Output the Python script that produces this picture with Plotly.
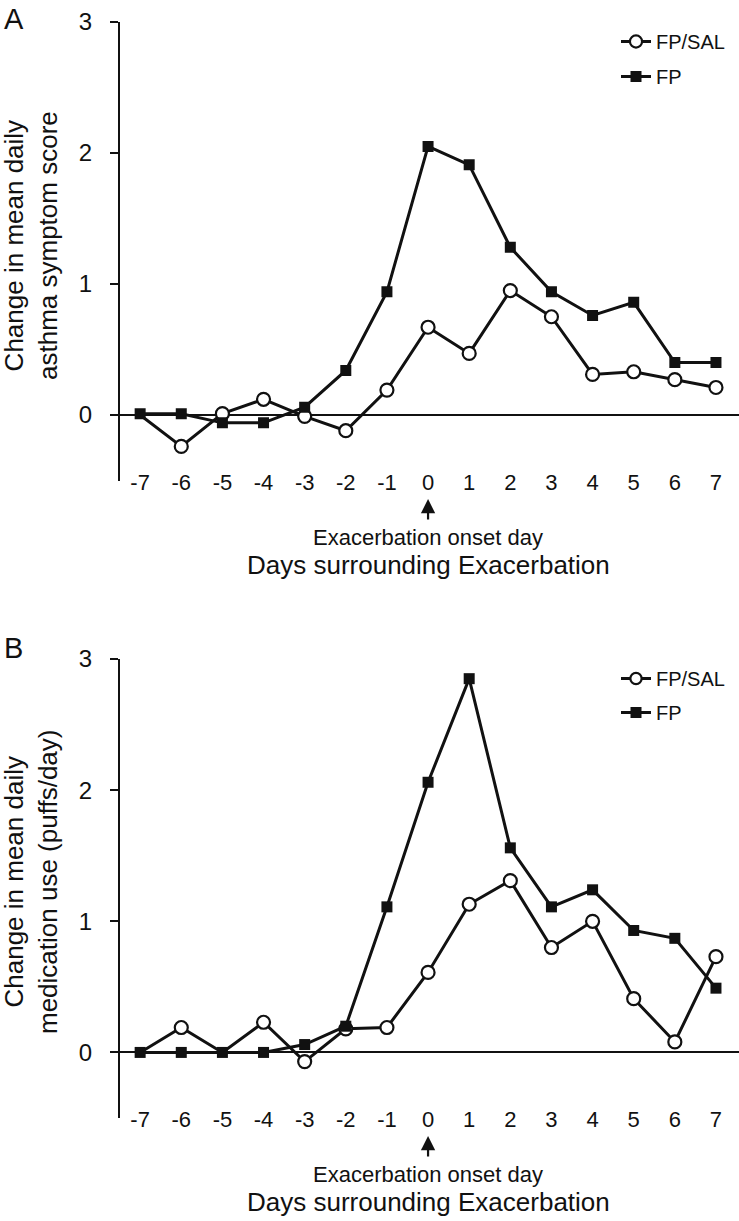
import plotly.graph_objects as go

# ---------------- data ----------------
days = [-7, -6, -5, -4, -3, -2, -1, 0, 1, 2, 3, 4, 5, 6, 7]
day_labels = ["-7", "-6", "-5", "-4", "-3", "-2", "-1", "0", "1", "2", "3", "4", "5", "6", "7"]

# Panel A: change in mean daily asthma symptom score
a_fpsal = [0.00, -0.24, 0.01, 0.12, -0.01, -0.12, 0.19, 0.67, 0.47, 0.95, 0.75, 0.31, 0.33, 0.27, 0.21]
a_fp = [0.01, 0.01, -0.06, -0.06, 0.06, 0.34, 0.94, 2.05, 1.91, 1.28, 0.94, 0.76, 0.86, 0.40, 0.40]

# Panel B: change in mean daily medication use (puffs/day)
b_fpsal = [0.00, 0.19, 0.00, 0.23, -0.07, 0.18, 0.19, 0.61, 1.13, 1.31, 0.80, 1.00, 0.41, 0.08, 0.73]
b_fp = [0.00, 0.00, 0.00, 0.00, 0.06, 0.20, 1.11, 2.06, 2.85, 1.56, 1.11, 1.24, 0.93, 0.87, 0.49]

y_ticks = [0, 1, 2, 3]
series_names = ["FP/SAL", "FP"]

# ---------------- layout geometry ----------------
W, H = 739, 1221
ML, MR, MT, MB = 120, 0, 22, 103
PH = H - MT - MB          # plot-area height in px
PW = W - ML - MR
PX_PER_UNIT = 131         # vertical px per y unit


def py(pix):
    """pixel row -> paper y"""
    return (H - MB - pix) / PH


def px(pix):
    """pixel column -> paper x"""
    return (pix - ML) / PW


FONT = "Liberation Sans, Arial, sans-serif"
BLACK = "#111111"

fig = go.Figure()

line_style = dict(color=BLACK, width=3)
square_style = dict(symbol="square", size=11, color=BLACK, opacity=1,
                    line=dict(color=BLACK, width=0))

for (xa, ya, leg, ys_sal, ys_fp) in [("x", "y", "legend", a_fpsal, a_fp),
                                     ("x2", "y2", "legend2", b_fpsal, b_fp)]:
    # circles exactly hidden under a coincident square are not visible in the original
    circ_sizes = [0 if abs(s - f) < 0.015 else 13 for s, f in zip(ys_sal, ys_fp)]
    fig.add_trace(go.Scatter(x=days, y=ys_sal, mode="lines+markers", name=series_names[0],
                             line=line_style,
                             marker=dict(symbol="circle", size=circ_sizes, color="white",
                                         opacity=1, line=dict(color=BLACK, width=2.2)),
                             xaxis=xa, yaxis=ya, legend=leg, legendgroup=leg + "a"))
    fig.add_trace(go.Scatter(x=days, y=ys_fp, mode="lines+markers", name=series_names[1],
                             line=line_style, marker=square_style, xaxis=xa, yaxis=ya,
                             legend=leg, legendgroup=leg + "b"))

xrange = [-7.49, 7.56]
yrange = [-0.5, 3]

common_x = dict(range=xrange, tickvals=days, ticktext=day_labels, showline=False,
                showgrid=False, zeroline=False, ticks="", anchor="free",
                tickfont=dict(family=FONT, size=22, color=BLACK))
common_y = dict(range=yrange, tickvals=y_ticks, showline=True, linewidth=2, linecolor=BLACK,
                ticks="outside", ticklen=8, tickwidth=2, tickcolor=BLACK, showgrid=False,
                zeroline=True, zerolinewidth=2, zerolinecolor=BLACK,
                ticklabelstandoff=13,
                tickfont=dict(family=FONT, size=24, color=BLACK))

fig.update_layout(
    width=W, height=H,
    margin=dict(l=ML, r=MR, t=MT, b=MB),
    paper_bgcolor="white", plot_bgcolor="white",
    font=dict(family=FONT, color=BLACK),
    xaxis=dict(**common_x, domain=[0, 1], position=py(467)),
    yaxis=dict(**common_y, domain=[py(480.5), 1], anchor="x"),
    xaxis2=dict(**common_x, domain=[0, 1], position=py(1104)),
    yaxis2=dict(**common_y, domain=[0, py(659)], anchor="x2"),
    legend=dict(x=px(616), y=py(22), xanchor="left", yanchor="top",
                bgcolor="rgba(0,0,0,0)", font=dict(family=FONT, size=20, color=BLACK),
                tracegroupgap=6, traceorder="grouped"),
    legend2=dict(x=px(616), y=py(659), xanchor="left", yanchor="top",
                 bgcolor="rgba(0,0,0,0)", font=dict(family=FONT, size=20, color=BLACK),
                 tracegroupgap=5, traceorder="grouped"),
    showlegend=True,
)

annotations = []
# (letter, x ref, zero-line pixel row, letter row, y title, y-title centre row)
panels = [
    ("A", "x", 22 + 3 * PX_PER_UNIT, 19, "Change in mean daily<br>asthma symptom score", 246),
    ("B", "x2", 659 + 3 * PX_PER_UNIT, 648, "Change in mean daily<br>medication use (puffs/day)", 882),
]
for label, xref, zero_pix, label_y, ytitle, ytitle_y in panels:
    # panel letter
    annotations.append(dict(text=label, xref="paper", yref="paper", x=px(2), y=py(label_y),
                            xanchor="left", yanchor="middle", showarrow=False,
                            font=dict(family=FONT, size=29, color=BLACK)))
    # y-axis title
    annotations.append(dict(text=ytitle, xref="paper", yref="paper", x=px(31), y=py(ytitle_y),
                            xanchor="center", yanchor="middle", textangle=-90, showarrow=False,
                            font=dict(family=FONT, size=26, color=BLACK)))
    # arrow pointing to day 0
    annotations.append(dict(text="", xref=xref, yref="paper", x=0, y=py(zero_pix + 84),
                            ax=0, ay=22, axref="pixel", ayref="pixel",
                            showarrow=True, arrowhead=2, arrowsize=1.3, arrowwidth=2.2,
                            arrowcolor=BLACK))
    # onset text
    annotations.append(dict(text="Exacerbation onset day", xref=xref, yref="paper", x=0,
                            y=py(zero_pix + 122), xanchor="center", yanchor="middle",
                            showarrow=False, font=dict(family=FONT, size=22, color=BLACK)))
    # x-axis title
    annotations.append(dict(text="Days surrounding Exacerbation", xref=xref, yref="paper", x=0,
                            y=py(zero_pix + 150), xanchor="center", yanchor="middle",
                            showarrow=False, font=dict(family=FONT, size=26, color=BLACK)))

fig.update_layout(annotations=annotations)

fig.write_html("out.html", config={"displayModeBar": False},
               post_script="document.body.style.margin='0px';")
